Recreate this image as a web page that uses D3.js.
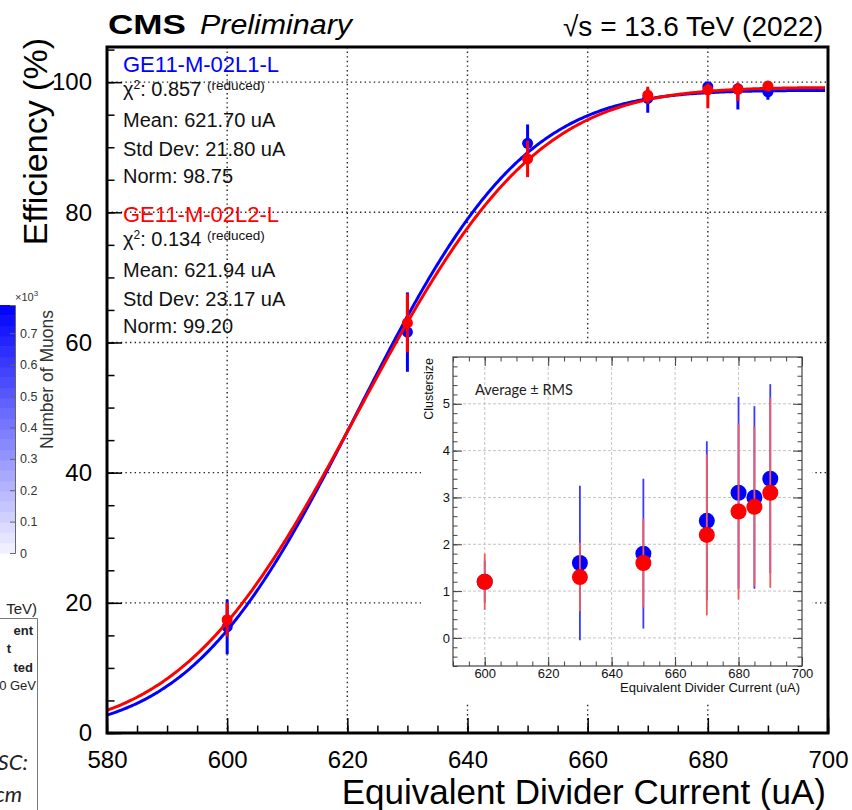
<!DOCTYPE html>
<html><head><meta charset="utf-8">
<script src="https://cdn.jsdelivr.net/npm/d3@7/dist/d3.min.js"></script>
<style>
body{margin:0;background:#fff}
svg{display:block;font-family:"Liberation Sans",Arial,Helvetica,sans-serif}
</style>
</head><body>
<svg id="c" width="852" height="810"></svg>
<script>
// ---------------- data ----------------
const currents = [600, 630, 650, 670, 680, 685, 690];
const effL1 = [16.3, 61.6, 90.6, 97.5, 99.3, 99.0, 98.5];
const errUpL1 = [4.2, 6.1, 2.9, 1.5, 0.7, 0.8, 1.0];
const errDnL1 = [4.2, 6.1, 2.9, 2.2, 1.0, 3.2, 1.2];
const effL2 = [17.4, 63.0, 88.2, 98.0, 98.8, 98.9, 99.4];
const errUpL2 = [2.6, 4.5, 2.8, 1.3, 1.0, 1.0, 0.5];
const errDnL2 = [2.6, 4.5, 2.8, 1.3, 2.8, 1.8, 0.6];

const chamberNames = ["GE11-M-02L1-L", "GE11-M-02L2-L"];
const fitChi2 = ["0.857", "0.134"];
const fitMean = [621.70, 621.94];
const fitSigma = [21.80, 23.17];
const fitNorm = [98.75, 99.20];

const clsL1 = [1.2, 1.6, 1.8, 2.5, 3.1, 3.0, 3.4];
const clsRmsL1 = [0.45, 1.65, 1.6, 1.7, 2.05, 1.95, 2.02];
const clsL2 = [1.2, 1.3, 1.6, 2.2, 2.7, 2.8, 3.1];
const clsRmsL2 = [0.6, 0.73, 0.95, 1.72, 1.88, 1.7, 2.03];

const xTicksMain = [580, 600, 620, 640, 660, 680, 700];
const yTicksMain = [0, 20, 40, 60, 80, 100];
const insetXTicks = [600, 620, 640, 660, 680, 700];
const insetYTicks = [0, 1, 2, 3, 4, 5];
const colorbarTicks = [0, 0.1, 0.2, 0.3, 0.4, 0.5, 0.6, 0.7];

const BLUE = "#0000ff", RED = "#ff0000";

// ---------------- helpers ----------------
function erf(x) {
  const s = Math.sign(x); x = Math.abs(x);
  const a1=0.254829592,a2=-0.284496736,a3=1.421413741,a4=-1.453152027,a5=1.061405429,p=0.3275911;
  const t = 1/(1+p*x);
  const y = 1-(((((a5*t+a4)*t)+a3)*t+a2)*t+a1)*t*Math.exp(-x*x);
  return s*y;
}
const svg = d3.select("#c");

// ---------------- left remnants ----------------
const cb = svg.append("g");
const cbY = d3.scaleLinear([0, 0.79], [553, 305]);
const cbColor = d3.scaleLinear([0, 0.79], ["#f4f4ff", "#0000ff"]);
const nb = 24;
d3.range(nb).forEach(i => {
  const v0 = 0.79*i/nb, v1 = 0.79*(i+1)/nb;
  cb.append("rect").attr("x", 0).attr("width", 15)
    .attr("y", cbY(v1)).attr("height", cbY(v0)-cbY(v1)+0.5)
    .attr("fill", cbColor((v0+v1)/2));
});
cb.append("g").attr("transform", "translate(15,0)")
  .call(d3.axisRight(cbY).tickValues(colorbarTicks).tickSize(-5).tickPadding(5).tickFormat(d => d === 0 ? "0" : d3.format(".1f")(d)))
  .call(g => g.select(".domain").attr("stroke", "#666"))
  .call(g => g.selectAll(".tick line").attr("stroke", "#666"))
  .call(g => g.selectAll("text").attr("font-size", 12.5).attr("fill", "#333").attr("font-family", "Liberation Sans, Arial"));
cb.append("text").attr("x", 15).attr("y", 301).attr("font-size", 11).attr("fill", "#333").html('×10<tspan dy="-5" font-size="8">3</tspan>');
cb.append("text").attr("transform", "translate(53,310) rotate(-90)").attr("text-anchor", "end")
  .attr("font-size", 17.5).attr("fill", "#333").text("Number of Muons");

const bl = svg.append("g").attr("fill", "#222");
bl.append("text").attr("x", 37).attr("y", 614).attr("text-anchor", "end").attr("font-size", 15).text("TeV)");
bl.append("path").attr("d", "M0,618.5H37.5V810").attr("fill", "none").attr("stroke", "#777").attr("stroke-width", 1);
bl.append("text").attr("x", 33).attr("y", 635).attr("text-anchor", "end").attr("font-size", 13).attr("font-weight", "bold").text("ent");
bl.append("text").attr("x", 11).attr("y", 653).attr("text-anchor", "end").attr("font-size", 13).attr("font-weight", "bold").text("t");
bl.append("text").attr("x", 33).attr("y", 672).attr("text-anchor", "end").attr("font-size", 13).attr("font-weight", "bold").text("ted");
bl.append("text").attr("x", 36).attr("y", 690).attr("text-anchor", "end").attr("font-size", 13).text("0 GeV");
bl.append("text").attr("x", 28).attr("y", 770).attr("text-anchor", "end").attr("font-size", 22).attr("font-style", "italic").attr("font-family", "Lato, Open Sans, sans-serif").text("SC:");
bl.append("text").attr("x", 22).attr("y", 802).attr("text-anchor", "end").attr("font-size", 22).attr("font-style", "italic").attr("font-family", "Lato, Open Sans, sans-serif").text("cm");

// ---------------- main plot ----------------
const L = 107, R = 828, T = 47, B = 733;
const x = d3.scaleLinear([580, 700], [L, R]);
const y = d3.scaleLinear([0, 105.4], [B, T]);

svg.append("clipPath").attr("id", "clip").append("rect").attr("x", L).attr("y", T).attr("width", R-L).attr("height", B-T);

// grid
const grid = svg.append("g").attr("stroke", "#222").attr("stroke-width", 1.4).attr("stroke-dasharray", "1.4,3.2");
xTicksMain.filter(v => v > 580 && v < 700).forEach(v => grid.append("line").attr("x1", x(v)).attr("x2", x(v)).attr("y1", T).attr("y2", B));
yTicksMain.filter(v => v > 0).forEach(v => grid.append("line").attr("x1", L).attr("x2", R).attr("y1", y(v)).attr("y2", y(v)));

// ticks
const minorX = d3.range(580, 701, 5);
const minorY = d3.range(0, 106, 5);
svg.append("g").attr("transform", `translate(0,${B})`)
  .call(d3.axisBottom(x).tickValues(minorX).tickSize(-7.5).tickFormat(""))
  .call(g => g.select(".domain").remove())
  .call(g => g.selectAll("line").attr("stroke", "#000").attr("stroke-width", 1.5));
svg.append("g").attr("transform", `translate(0,${B})`)
  .call(d3.axisBottom(x).tickValues(xTicksMain).tickSize(-15).tickPadding(18))
  .call(g => g.select(".domain").remove())
  .call(g => g.selectAll("line").attr("stroke", "#000").attr("stroke-width", 1.5))
  .call(g => g.selectAll("text").attr("font-size", 24).attr("fill", "#000").attr("font-family", "Liberation Sans, Arial"));
svg.append("g").attr("transform", `translate(${L},0)`)
  .call(d3.axisLeft(y).tickValues(minorY).tickSize(-7.5).tickFormat(""))
  .call(g => g.select(".domain").remove())
  .call(g => g.selectAll("line").attr("stroke", "#000").attr("stroke-width", 1.5));
svg.append("g").attr("transform", `translate(${L},0)`)
  .call(d3.axisLeft(y).tickValues(yTicksMain).tickSize(-15).tickPadding(15))
  .call(g => g.select(".domain").remove())
  .call(g => g.selectAll("line").attr("stroke", "#000").attr("stroke-width", 1.5))
  .call(g => g.selectAll("text").attr("font-size", 24).attr("fill", "#000").attr("font-family", "Liberation Sans, Arial"));

// legend texts
function legendBlock(i, y0, color) {
  const g = svg.append("g").attr("font-size", 20).attr("fill", "#111");
  g.append("text").attr("x", 123).attr("y", y0).attr("font-size", 22).attr("fill", color).text(chamberNames[i]);
  g.append("text").attr("x", 123).attr("y", y0+24)
    .html(`χ<tspan font-size="12" dy="-7">2</tspan><tspan dy="7">: ${fitChi2[i]} </tspan><tspan font-size="13.5" dy="-6">(reduced)</tspan>`);
  g.append("text").attr("x", 123).attr("y", y0+55).text(`Mean: ${fitMean[i].toFixed(2)} uA`);
  g.append("text").attr("x", 123).attr("y", y0+84).text(`Std Dev: ${fitSigma[i].toFixed(2)} uA`);
  g.append("text").attr("x", 123).attr("y", y0+111).text(`Norm: ${fitNorm[i].toFixed(2)}`);
}
legendBlock(0, 72, BLUE);
legendBlock(1, 222, RED);

// fit curves + points
const plot = svg.append("g").attr("clip-path", "url(#clip)");
const xs = d3.range(580, 699.6, 0.25);
const line = d3.line().x(d => x(d[0])).y(d => y(d[1]));
function drawSeries(i, eff, up, dn, color) {
  const pts = xs.map(v => [v, fitNorm[i]*0.5*(1+erf((v-fitMean[i])/(Math.SQRT2*fitSigma[i])))]);
  plot.append("path").attr("d", line(pts)).attr("fill", "none").attr("stroke", color).attr("stroke-width", 3);
  const g = plot.append("g");
  currents.forEach((c, k) => {
    g.append("line").attr("x1", x(c)).attr("x2", x(c)).attr("y1", y(eff[k]-dn[k])).attr("y2", y(eff[k]+up[k]))
      .attr("stroke", color).attr("stroke-width", 3);
    g.append("circle").attr("cx", x(c)).attr("cy", y(eff[k])).attr("r", 5.5).attr("fill", color);
  });
}
drawSeries(0, effL1, errUpL1, errDnL1, BLUE);
drawSeries(1, effL2, errUpL2, errDnL2, RED);

// frame
svg.append("rect").attr("x", L).attr("y", T).attr("width", R-L).attr("height", B-T)
  .attr("fill", "none").attr("stroke", "#000").attr("stroke-width", 3);

// titles
svg.append("text").attr("x", 108).attr("y", 34).attr("font-size", 28).attr("font-weight", "bold")
  .attr("textLength", 78).attr("lengthAdjust", "spacingAndGlyphs").text("CMS");
svg.append("text").attr("x", 200).attr("y", 34).attr("font-size", 27).attr("font-style", "italic")
  .attr("textLength", 152).attr("lengthAdjust", "spacingAndGlyphs").text("Preliminary");
svg.append("text").attr("x", 823).attr("y", 36).attr("font-size", 28).attr("text-anchor", "end").text("√s = 13.6 TeV (2022)");
svg.append("text").attr("transform", "translate(47,38) rotate(-90)").attr("text-anchor", "end")
  .attr("font-size", 34).text("Efficiency (%)");
svg.append("text").attr("x", 826).attr("y", 804).attr("text-anchor", "end").attr("font-size", 35)
  .text("Equivalent Divider Current (uA)");

// ---------------- inset ----------------
const iL = 453, iR = 802, iT = 357, iB = 666;
const xi = d3.scaleLinear([590, 700], [iL, iR]);
const yi = d3.scaleLinear([-0.6, 6.0], [iB, iT]);
const ins = svg.append("g");
ins.append("rect").attr("x", 421).attr("y", 344).attr("width", 391).attr("height", 359).attr("fill", "#fff");
const ig = ins.append("g").attr("stroke", "#c4c4c4").attr("stroke-width", 1).attr("stroke-dasharray", "3,2");
insetXTicks.filter(v => v < 700).forEach(v => ig.append("line").attr("x1", xi(v)).attr("x2", xi(v)).attr("y1", iT).attr("y2", iB));
insetYTicks.forEach(v => ig.append("line").attr("x1", iL).attr("x2", iR).attr("y1", yi(v)).attr("y2", yi(v)));

const iMinorX = d3.range(590, 701, 5);
const iMinorY = d3.range(-0.6, 6.01, 0.2).map(v => +v.toFixed(1));
function styleInsetAxis(g) {
  g.select(".domain").remove();
  g.selectAll("line").attr("stroke", "#444").attr("stroke-width", 1);
  g.selectAll("text").attr("font-size", 13).attr("fill", "#111").attr("font-family", "Liberation Sans, Arial");
}
ins.append("g").attr("transform", `translate(0,${iB})`).call(d3.axisBottom(xi).tickValues(iMinorX).tickSize(-4.5).tickFormat("")).call(styleInsetAxis);
ins.append("g").attr("transform", `translate(0,${iB})`).call(d3.axisBottom(xi).tickValues(insetXTicks).tickSize(-9).tickPadding(3).tickFormat(d3.format("d"))).call(styleInsetAxis);
ins.append("g").attr("transform", `translate(0,${iT})`).call(d3.axisTop(xi).tickValues(iMinorX).tickSize(-4.5).tickFormat("")).call(styleInsetAxis);
ins.append("g").attr("transform", `translate(0,${iT})`).call(d3.axisTop(xi).tickValues(insetXTicks).tickSize(-9).tickFormat("")).call(styleInsetAxis);
ins.append("g").attr("transform", `translate(${iL},0)`).call(d3.axisLeft(yi).tickValues(iMinorY).tickSize(-4.5).tickFormat("")).call(styleInsetAxis);
ins.append("g").attr("transform", `translate(${iL},0)`).call(d3.axisLeft(yi).tickValues(insetYTicks).tickSize(-9).tickPadding(3).tickFormat(d3.format("d"))).call(styleInsetAxis);
ins.append("g").attr("transform", `translate(${iR},0)`).call(d3.axisRight(yi).tickValues(iMinorY).tickSize(-4.5).tickFormat("")).call(styleInsetAxis);
ins.append("g").attr("transform", `translate(${iR},0)`).call(d3.axisRight(yi).tickValues(insetYTicks).tickSize(-9).tickFormat("")).call(styleInsetAxis);

function insetSeries(vals, rms, color, barColor) {
  const g = ins.append("g");
  currents.forEach((c, k) => {
    g.append("line").attr("x1", xi(c)).attr("x2", xi(c)).attr("y1", yi(vals[k]-rms[k])).attr("y2", yi(vals[k]+rms[k]))
      .attr("stroke", barColor).attr("stroke-width", 1.8);
  });
  currents.forEach((c, k) => {
    g.append("circle").attr("cx", xi(c)).attr("cy", yi(vals[k])).attr("r", 8).attr("fill", color);
  });
}
insetSeries(clsL1, clsRmsL1, BLUE, "#3a3aff");
insetSeries(clsL2, clsRmsL2, RED, "#f25a5a");

ins.append("rect").attr("x", iL).attr("y", iT).attr("width", iR-iL).attr("height", iB-iT)
  .attr("fill", "none").attr("stroke", "#444").attr("stroke-width", 1.2);
ins.append("text").attr("x", 475).attr("y", 395).attr("font-size", 14.5).attr("fill", "#222")
  .attr("font-family", "Lato, 'Open Sans', sans-serif").text("Average ± RMS");
ins.append("text").attr("transform", "translate(433,358) rotate(-90)").attr("text-anchor", "end")
  .attr("font-size", 12.5).attr("fill", "#111").text("Clustersize");
ins.append("text").attr("x", 800).attr("y", 692).attr("text-anchor", "end").attr("font-size", 13).attr("fill", "#111")
  .text("Equivalent Divider Current (uA)");
</script>
</body></html>
